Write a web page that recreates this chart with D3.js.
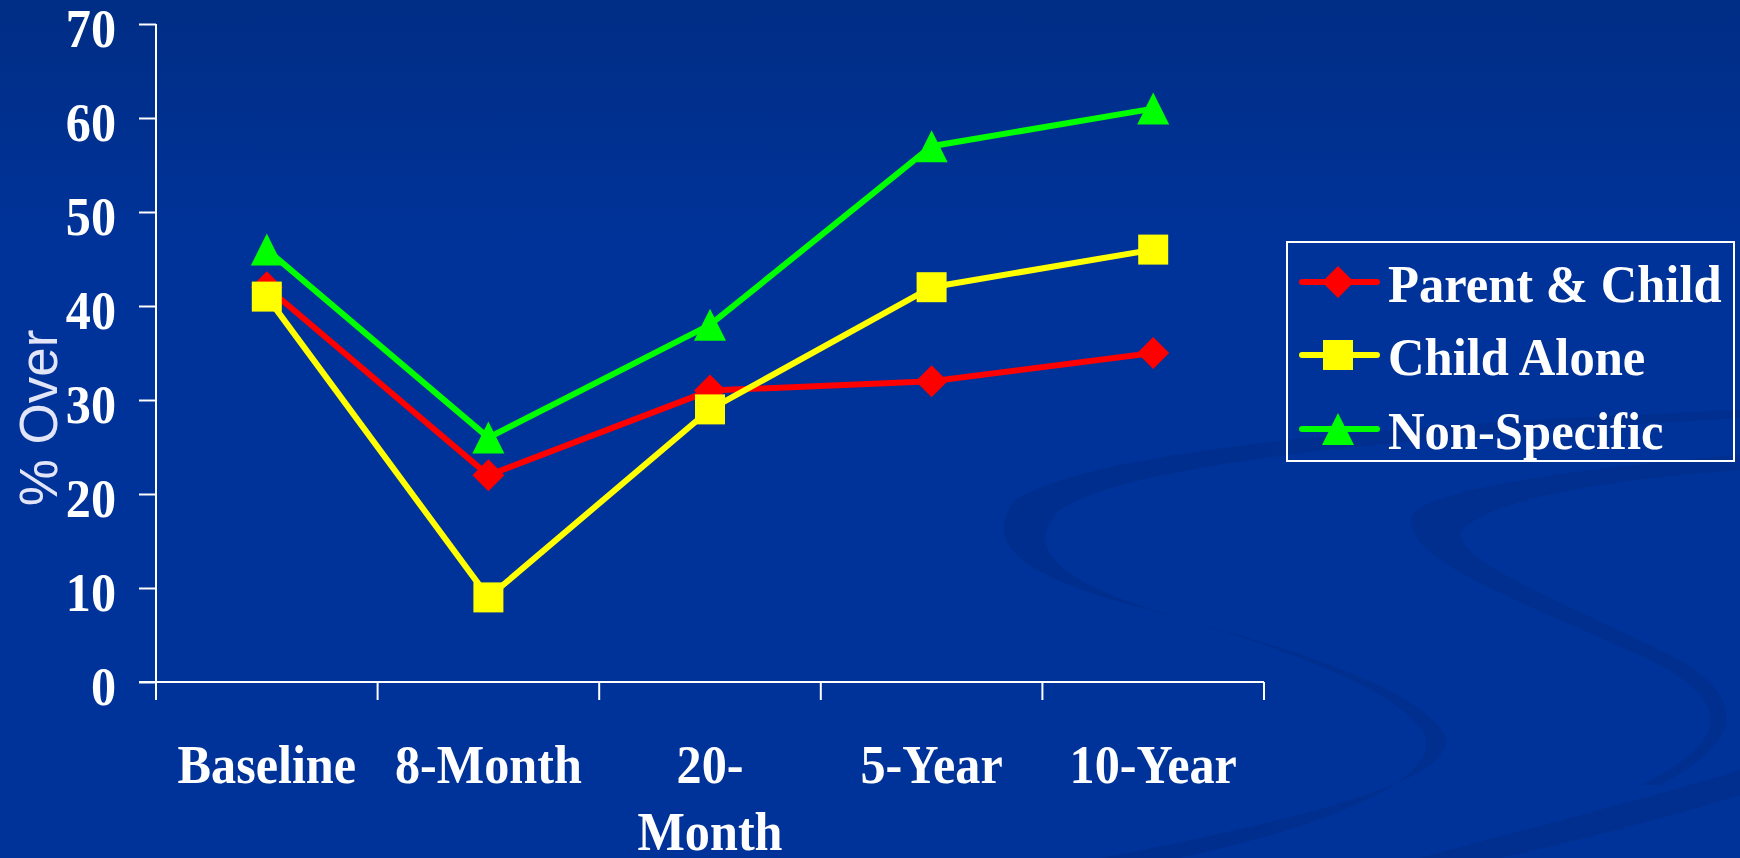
<!DOCTYPE html>
<html>
<head>
<meta charset="utf-8">
<script src="https://cdn.jsdelivr.net/npm/d3@7"></script>
<style>
  html, body { margin: 0; padding: 0; background: #003399; overflow: hidden; }
  svg { display: block; }
</style>
</head>
<body>
<svg id="chart" width="1740" height="858"></svg>
<script>
// ---- data ----
const categories = ["Baseline", "8-Month", "20-Month", "5-Year", "10-Year"];
const xTickLines = [["Baseline"], ["8-Month"], ["20-", "Month"], ["5-Year"], ["10-Year"]];
const seriesNames = ["Parent & Child", "Child Alone", "Non-Specific"];
const parentChild = [42, 22, 31, 32, 35];
const childAlone = [41, 9, 29, 42, 46];
const nonSpecific = [46, 26, 38, 57, 61];
const yTicks = [0, 10, 20, 30, 40, 50, 60, 70];
const yLabel = "% Over";

const seriesValues = [parentChild, childAlone, nonSpecific];
const seriesColors = ["#FF0000", "#FFFF00", "#00FF00"];
const seriesMarkers = ["diamond", "square", "triangle"];

const svg = d3.select("#chart");
const W = 1740, H = 858;

// ---- background ----
const defs = svg.append("defs");
const grad = defs.append("linearGradient").attr("id", "bg").attr("x1", 0).attr("y1", 0).attr("x2", 0).attr("y2", 1);
grad.append("stop").attr("offset", "0").attr("stop-color", "#002D85");
grad.append("stop").attr("offset", "0.28").attr("stop-color", "#003399");
grad.append("stop").attr("offset", "1").attr("stop-color", "#003399");
svg.append("rect").attr("width", W).attr("height", H).attr("fill", "url(#bg)");

// decorative swooshes
const deco = svg.append("g").attr("fill", "#002E8C").attr("opacity", 0.75);
deco.append("path").attr("d",
  "M1740,410 C1500,420 1110,440 1015,500 C985,540 1010,575 1150,610 C1300,650 1420,690 1445,735 C1460,780 1300,820 1100,858 L1180,858 C1330,825 1440,780 1425,735 C1400,690 1290,650 1160,612 C1040,575 1030,540 1060,510 C1140,455 1500,432 1740,418 Z");
deco.append("path").attr("d",
  "M1740,455 C1560,470 1430,490 1412,515 C1400,560 1520,600 1650,660 C1730,700 1735,740 1640,785 L1660,785 C1745,740 1745,700 1680,660 C1560,600 1450,560 1462,530 C1490,500 1600,480 1740,470 Z");
deco.append("path").attr("d",
  "M1420,858 C1560,820 1660,795 1740,770 L1740,795 C1660,820 1560,845 1500,858 Z");

// ---- scales ----
const x = d3.scaleBand().domain(categories).range([156, 1264]).paddingInner(0).paddingOuter(0);
const y = d3.scaleLinear().domain([0, 70]).range([682, 24]);

const axisColor = "#FFFFFF";
const sx = 0.93;

// ---- y axis ----
const yAxis = svg.append("g").attr("transform", "translate(156,0)")
  .call(d3.axisLeft(y).tickValues(yTicks).tickSizeInner(17).tickSizeOuter(0).tickPadding(23).tickFormat(d3.format("d")));
yAxis.select(".domain").attr("stroke", axisColor).attr("stroke-width", 2).attr("d", "M0,24V700");
yAxis.selectAll(".tick line").attr("stroke", axisColor).attr("stroke-width", 2);
yAxis.selectAll(".tick text")
  .attr("fill", "#FFFFFF")
  .attr("font-family", "'Liberation Serif', 'Times New Roman', serif")
  .attr("font-weight", "bold")
  .attr("font-size", 54)
  .attr("x", -40 / sx)
  .attr("dy", 22)
  .attr("transform", `scale(${sx},1)`);

// ---- x axis ----
const xAxis = svg.append("g").attr("transform", "translate(0,682)")
  .call(d3.axisBottom(x).tickSizeInner(0).tickSizeOuter(0).tickPadding(0));
xAxis.select(".domain").attr("stroke", axisColor).attr("stroke-width", 2).attr("d", "M139,0H1264");
xAxis.selectAll(".tick line").remove();
xAxis.selectAll(".tick text").each(function(d, i) {
  const t = d3.select(this);
  t.text(null)
    .attr("fill", "#FFFFFF")
    .attr("font-family", "'Liberation Serif', 'Times New Roman', serif")
    .attr("font-weight", "bold")
    .attr("font-size", 54)
    .attr("text-anchor", "middle")
    .attr("y", 0)
    .attr("dy", null)
    .attr("transform", `scale(${sx},1)`);
  xTickLines[i].forEach((line, j) => {
    t.append("tspan").attr("x", 0).attr("y", 101 + j * 67).text(line);
  });
});
// boundary tick marks between categories
const edges = categories.map(c => x(c)).concat([x(categories[categories.length - 1]) + x.bandwidth()]);
xAxis.selectAll(".edge").data(edges).enter().append("line")
  .attr("class", "edge")
  .attr("x1", d => d).attr("x2", d => d)
  .attr("y1", 0).attr("y2", 18)
  .attr("stroke", axisColor).attr("stroke-width", 2);

// ---- y label ----
svg.append("text")
  .attr("transform", "translate(57,418) rotate(-90)")
  .attr("text-anchor", "middle")
  .attr("font-family", "'Liberation Sans', Arial, sans-serif")
  .attr("font-size", 53)
  .attr("fill", "#E2E4F8")
  .text(yLabel);

// ---- markers ----
function markerPath(type) {
  if (type === "diamond") return "M0,-16L16,0L0,16L-16,0Z";
  if (type === "square") return "M-15,-15H15V15H-15Z";
  return "M0,-16L16,16L-16,16Z";
}

const line = d3.line().x((d, i) => x(categories[i]) + x.bandwidth() / 2).y(d => y(d));

seriesValues.forEach((vals, s) => {
  const g = svg.append("g");
  g.append("path").datum(vals)
    .attr("d", line)
    .attr("fill", "none")
    .attr("stroke", seriesColors[s])
    .attr("stroke-width", 6)
    .attr("stroke-linejoin", "miter");
  g.selectAll("path.m").data(vals).enter().append("path")
    .attr("class", "m")
    .attr("d", markerPath(seriesMarkers[s]))
    .attr("transform", (d, i) => `translate(${x(categories[i]) + x.bandwidth() / 2},${y(d)})`)
    .attr("fill", seriesColors[s]);
});

// ---- legend ----
const legend = svg.append("g");
legend.append("rect")
  .attr("x", 1287).attr("y", 242).attr("width", 447).attr("height", 219)
  .attr("fill", "none").attr("stroke", "#FFFFFF").attr("stroke-width", 2);
const rowY = [282, 355, 429];
seriesNames.forEach((name, s) => {
  const ry = rowY[s];
  legend.append("line")
    .attr("x1", 1302).attr("x2", 1377).attr("y1", ry).attr("y2", ry)
    .attr("stroke", seriesColors[s]).attr("stroke-width", 6).attr("stroke-linecap", "round");
  legend.append("path")
    .attr("d", markerPath(seriesMarkers[s]))
    .attr("transform", `translate(1338,${ry})`)
    .attr("fill", seriesColors[s]);
  legend.append("text")
    .attr("transform", `translate(1388,${ry + 20}) scale(0.955,1)`)
    .attr("font-family", "'Liberation Serif', 'Times New Roman', serif")
    .attr("font-weight", "bold")
    .attr("font-size", 53)
    .attr("fill", "#FFFFFF")
    .text(name);
});
</script>
</body>
</html>
